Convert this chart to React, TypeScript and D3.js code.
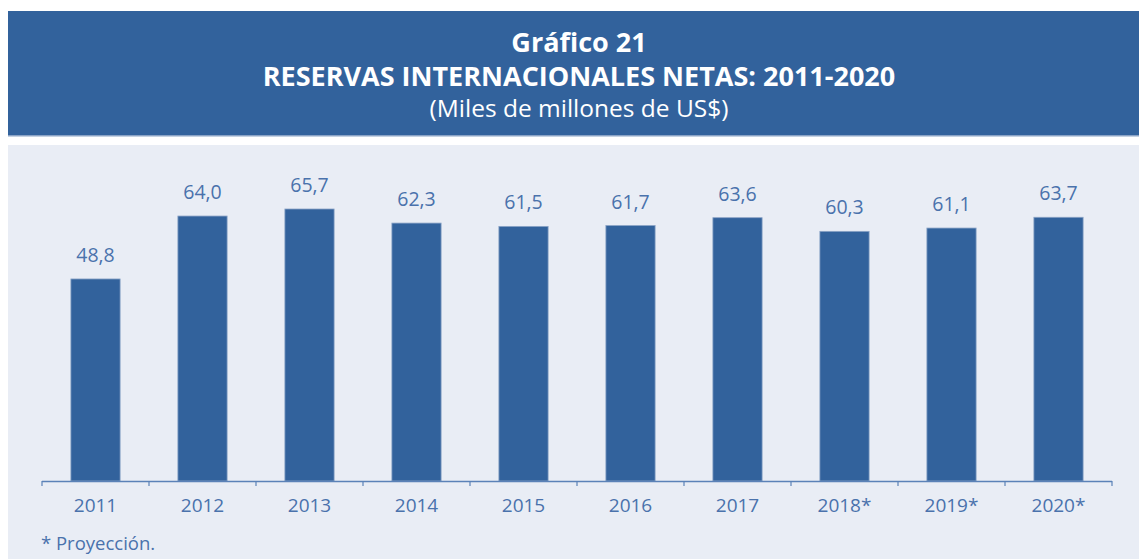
import React from "react";
import * as d3 from "d3";

const categories = ["2011", "2012", "2013", "2014", "2015", "2016", "2017", "2018*", "2019*", "2020*"];
const values = [48.8, 64.0, 65.7, 62.3, 61.5, 61.7, 63.6, 60.3, 61.1, 63.7];
const titleLines = ["Gráfico 21", "RESERVAS INTERNACIONALES NETAS: 2011-2020", "(Miles de millones de US$)"];
const note = "* Proyección.";

const W = 1139;
const H = 559;
const FONT = "'Open Sans', 'Noto Sans', sans-serif";
const BLUE = "#32629c";
const PANEL = "#e9edf5";
const TEXT = "#4a72ac";

export default function App() {
  const x = d3.scaleBand<string>().domain(categories).range([42, 1112]).paddingInner(0.54).paddingOuter(0.27);
  const y = d3.scaleLinear().domain([0, 70]).range([481, 481 - 70 * 4.14]);
  const x0 = 42;
  const ticks = d3.range(categories.length + 1).map((i) => x0 + i * ((1112 - 42) / categories.length));
  const fmt = (v: number) => v.toFixed(1).replace(".", ",");
  return (
    <svg width={W} height={H} style={{ position: "absolute", left: 0, top: 0 }} fontFamily={FONT}>
      <rect x={8} y={11} width={W - 8} height={125} fill={BLUE} />
      <rect x={8} y={135} width={W - 8} height={1.5} fill="#8aa3c6" />
      <rect x={8} y={145} width={W - 8} height={H - 145} fill={PANEL} />
      <text x={579} y={52} textAnchor="middle" fill="#fff" fontWeight="bold" fontSize={27}>{titleLines[0]}</text>
      <text x={579} y={86} textAnchor="middle" fill="#fff" fontWeight="bold" fontSize={27}>{titleLines[1]}</text>
      <text x={579} y={117} textAnchor="middle" fill="#fff" fontSize={24.5}>{titleLines[2]}</text>
      {categories.map((c, i) => (
        <g key={c}>
          <rect
            x={x(c)!}
            y={y(values[i])}
            width={x.bandwidth()}
            height={y(0) - y(values[i])}
            fill={BLUE}
            stroke="#8aa3c6"
            strokeWidth={0.8}
          />
          <text x={x(c)! + x.bandwidth() / 2} y={y(values[i]) - 17} textAnchor="middle" fill={TEXT} fontSize={19.5}>
            {fmt(values[i])}
          </text>
          <text x={x(c)! + x.bandwidth() / 2} y={512} textAnchor="middle" fill={TEXT} fontSize={19}>
            {c}
          </text>
        </g>
      ))}
      <line x1={42} x2={1112} y1={481.5} y2={481.5} stroke="#5b82b8" strokeWidth={1.5} />
      {ticks.map((t, i) => (
        <line key={i} x1={t} x2={t} y1={481} y2={486} stroke="#5b82b8" strokeWidth={1.2} />
      ))}
      <text x={41} y={550} fill={TEXT} fontSize={18.5}>{note}</text>
    </svg>
  );
}
